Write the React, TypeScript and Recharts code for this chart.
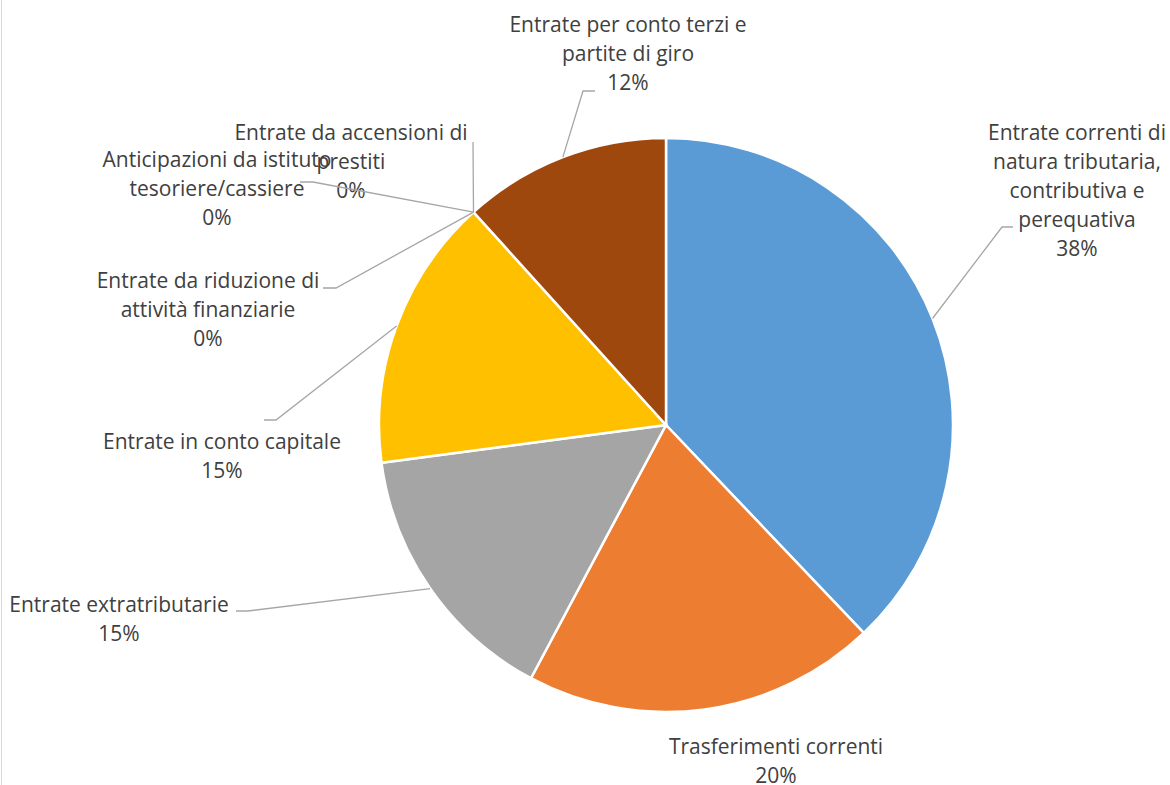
import { PieChart, Pie, Cell } from "recharts";

// ─── Data ─────────────────────────────────────────────────────────────────────

const CATEGORIES = [
  "Entrate correnti di\nnatura tributaria,\ncontributiva e\nperequativa",
  "Trasferimenti correnti",
  "Entrate extratributarie",
  "Entrate in conto capitale",
  "Entrate da riduzione di\nattività finanziarie",
  "Entrate da accensioni di\nprestiti",
  "Anticipazioni da istituto\ntesoriere/cassiere",
  "Entrate per conto terzi e\npartite di giro",
];

const VALUES = [37.9, 19.9, 15.1, 15.4, 0, 0, 0, 11.7];

const COLORS = [
  "#5B9BD5",
  "#ED7D31",
  "#A5A5A5",
  "#FFC000",
  "#4472C4",
  "#70AD47",
  "#264478",
  "#9E480E",
];

// ─── Label layout (Excel-style placed data labels) ────────────────────────────

interface LabelPos {
  x: number;
  y: number;
  leader?: [number, number][];
}

const LABEL_LAYOUT: LabelPos[] = [
  { x: 1077, y: 140, leader: [[1002, 227], [1013, 227]] },
  { x: 776, y: 754 },
  { x: 119, y: 612, leader: [[248, 611], [236, 611]] },
  { x: 222, y: 449, leader: [[276, 420], [264, 420]] },
  { x: 208, y: 288, leader: [[336, 288], [323, 288]] },
  { x: 351, y: 140, leader: [[473, 142]] },
  { x: 217, y: 167, leader: [[313, 182], [300, 182]] },
  { x: 628, y: 32, leader: [[583, 91], [595, 91]] },
];

const data = CATEGORIES.map((name, i) => ({ name, value: VALUES[i] }));

const RADIAN = Math.PI / 180;
const LINE_H = 29;

function renderLabel(props: any) {
  const { cx, cy, midAngle, outerRadius, index, percent } = props;
  const pos = LABEL_LAYOUT[index];
  const sx = cx + outerRadius * Math.cos(-midAngle * RADIAN);
  const sy = cy + outerRadius * Math.sin(-midAngle * RADIAN);
  const lines = CATEGORIES[index]
    .split("\n")
    .concat(`${Math.round((percent ?? 0) * 100)}%`);

  return (
    <g key={`label-${index}`}>
      {pos.leader && (
        <polyline
          points={[[sx, sy], ...pos.leader].map((p) => p.join(",")).join(" ")}
          fill="none"
          stroke="#A6A6A6"
          strokeWidth={1.3}
        />
      )}
      <text
        x={pos.x}
        y={pos.y}
        textAnchor="middle"
        fill="#404040"
        fontSize={21}
        fontFamily="'Open Sans', sans-serif"
      >
        {lines.map((line, i) => (
          <tspan key={i} x={pos.x} dy={i === 0 ? 0 : LINE_H}>
            {line}
          </tspan>
        ))}
      </text>
    </g>
  );
}

// ─── Component ────────────────────────────────────────────────────────────────

export default function App() {
  return (
    <div
      style={{
        position: "absolute",
        left: 0,
        top: 0,
        width: 1170,
        height: 785,
        background: "#fff",
        overflow: "hidden",
      }}
    >
      <div
        style={{
          position: "absolute",
          left: 1,
          top: 0,
          width: 1,
          height: 785,
          background: "#D9D9D9",
        }}
      />
      <PieChart width={1170} height={785} margin={{ top: 0, right: 0, bottom: 0, left: 0 }}>
        <Pie
          data={data}
          dataKey="value"
          nameKey="name"
          cx={666}
          cy={425}
          outerRadius={287}
          startAngle={90}
          endAngle={-270}
          stroke="#FFFFFF"
          strokeWidth={2.5}
          label={renderLabel}
          labelLine={false}
          isAnimationActive={false}
        >
          {data.map((_, i) => (
            <Cell key={i} fill={COLORS[i]} />
          ))}
        </Pie>
      </PieChart>
    </div>
  );
}
